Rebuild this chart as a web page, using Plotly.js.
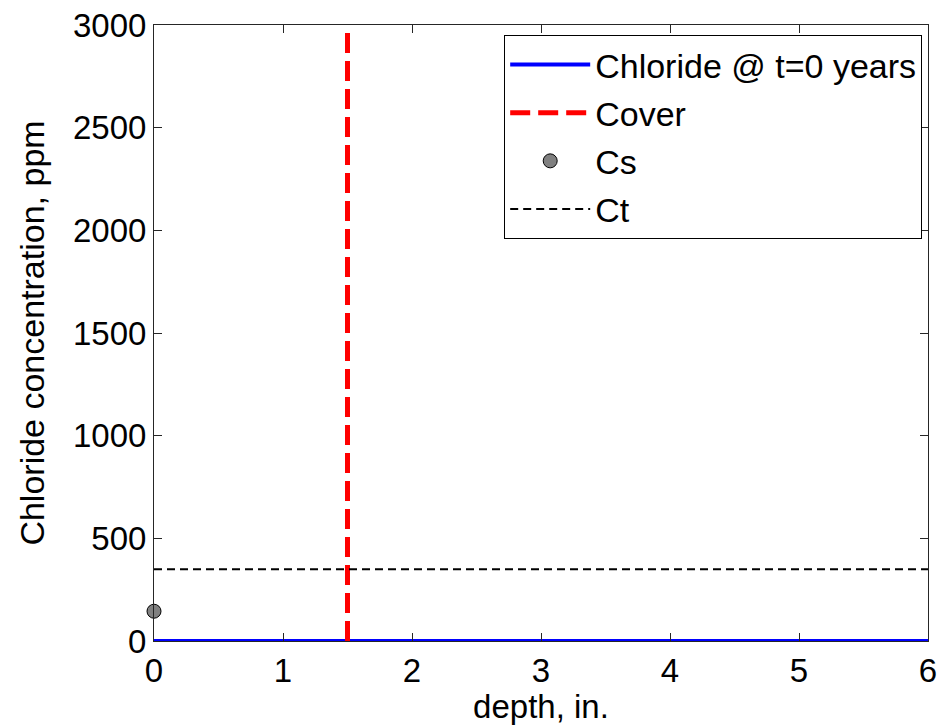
<!DOCTYPE html>
<html>
<head>
<meta charset="utf-8">
<script src="https://cdn.plot.ly/plotly-3.0.1.min.js"></script>
<style>html,body{margin:0;padding:0;background:#fff;}#chart{width:940px;height:725px;}</style>
</head>
<body>
<div id="chart"></div>
<script>
// Data
var chlorideDepth = [0, 6];
var chlorideConc = [0, 0];
var coverDepth = [1.5, 1.5];
var coverConc = [0, 3000];
var csDepth = [0];
var csConc = [145];
var ctDepth = [0, 6];
var ctConc = [350, 350];
var xTicks = [0, 1, 2, 3, 4, 5, 6];
var yTicks = [0, 500, 1000, 1500, 2000, 2500, 3000];

var fontFam = '"Liberation Sans", Arial, sans-serif';

var traces = [
  {x: chlorideDepth, y: chlorideConc, mode: 'lines', name: 'Chloride @ t=0 years',
   line: {color: '#0000ff', width: 4}, legendgroup: 'a'},
  {x: coverDepth, y: coverConc, mode: 'lines', name: 'Cover',
   line: {color: '#ff0000', width: 5, dash: '20px,8px'}, legendgroup: 'b'},
  {x: csDepth, y: csConc, mode: 'markers', name: 'Cs',
   marker: {color: '#808080', size: 14, line: {color: '#000000', width: 1}}, legendgroup: 'c', cliponaxis: false},
  {x: ctDepth, y: ctConc, mode: 'lines', name: 'Ct',
   line: {color: '#000000', width: 2, dash: '8px,5px'}, legendgroup: 'd'}
];

var axisCommon = {
  showgrid: false, zeroline: false, showline: true, linecolor: '#262626', linewidth: 1,
  mirror: 'ticks', ticks: 'inside', ticklen: 8, tickcolor: '#262626', tickwidth: 1,
  tickfont: {family: fontFam, size: 33, color: '#000'}
};

var layout = {
  width: 940, height: 725,
  margin: {l: 154, r: 12, t: 25, b: 84},
  paper_bgcolor: '#fff', plot_bgcolor: '#fff',
  font: {family: fontFam, color: '#000'},
  xaxis: Object.assign({}, axisCommon, {
    range: [0, 6], tickmode: 'array', tickvals: xTicks, ticktext: xTicks.map(String),
    title: {text: 'depth, in.', font: {family: fontFam, size: 33, color: '#000'}, standoff: 4}
  }),
  yaxis: Object.assign({}, axisCommon, {
    range: [0, 3000], tickmode: 'array', tickvals: yTicks, ticktext: yTicks.map(String),
    title: {text: 'Chloride concentration, ppm', font: {family: fontFam, size: 34, color: '#000'}, standoff: 18}
  }),
  showlegend: true,
  legend: {
    x: 0.9925, xanchor: 'right', y: 0.984, yanchor: 'top',
    bordercolor: '#000', borderwidth: 1, bgcolor: '#fff',
    font: {family: fontFam, size: 34, color: '#000'},
    itemwidth: 80, traceorder: 'grouped', tracegroupgap: 1
  }
};

Plotly.newPlot('chart', traces, layout, {displayModeBar: false, staticPlot: true});
</script>
</body>
</html>
